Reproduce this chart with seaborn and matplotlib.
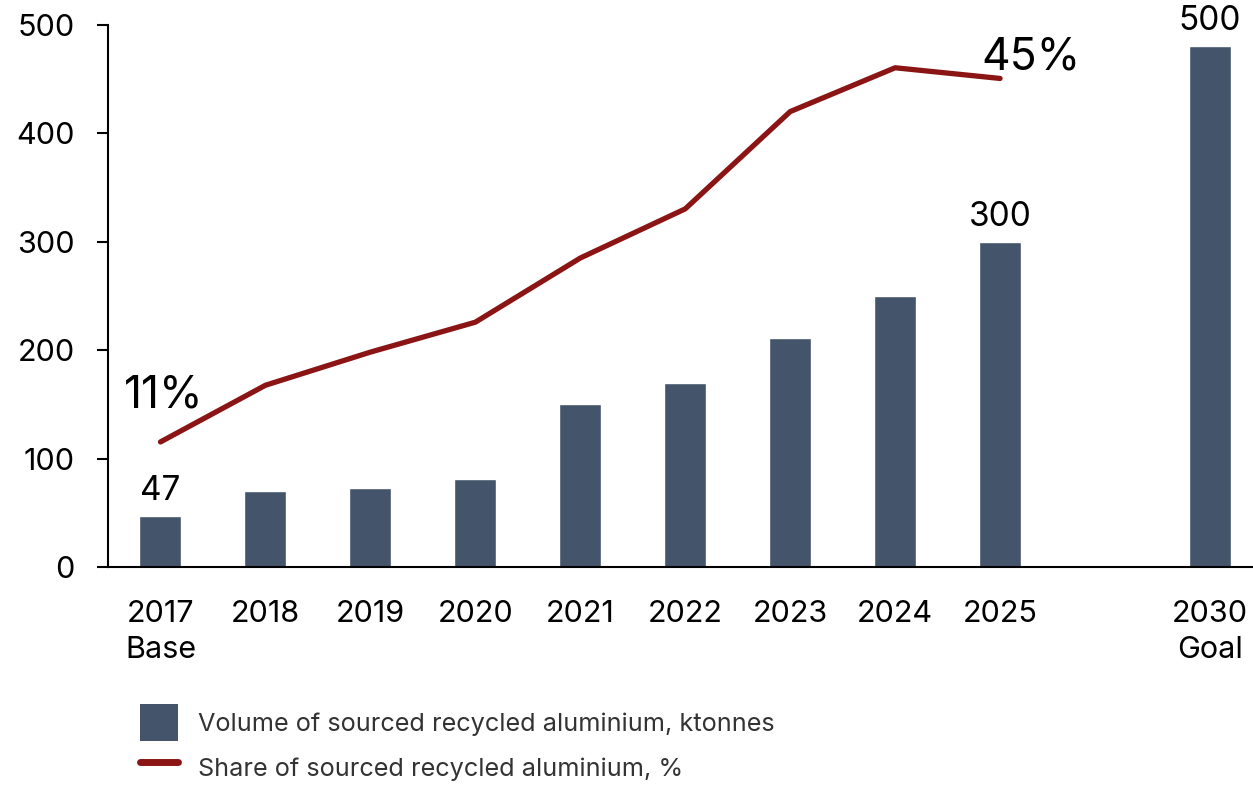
import matplotlib
matplotlib.use("Agg")
import matplotlib.pyplot as plt
import seaborn as sns
import pandas as pd
from matplotlib.patches import Patch
from matplotlib.lines import Line2D

# ---- data ----
slots = ["2017\nBase", "2018", "2019", "2020", "2021", "2022", "2023", "2024", "2025", " ", "2030\nGoal"]
bar_cats = ["2017\nBase", "2018", "2019", "2020", "2021", "2022", "2023", "2024", "2025", "2030\nGoal"]
volume = [47, 70, 73, 81, 150, 170, 211, 250, 300, 481]
bar_labels = {"2017\nBase": "47", "2025": "300", "2030\nGoal": "500"}
line_cats = ["2017\nBase", "2018", "2019", "2020", "2021", "2022", "2023", "2024", "2025"]
share = [11, 16.3, 19.4, 22.2, 28.2, 32.8, 41.9, 46.0, 45]
yticks = [0, 100, 200, 300, 400, 500]

BAR = "#44546a"
RED = "#8b1414"

sns.set_theme(style="white")
plt.rcParams["font.family"] = ["Inter", "DejaVu Sans"]

fig = plt.figure(figsize=(12.53, 7.86), dpi=100)
ax = fig.add_axes([108 / 1253, 1 - 567 / 786, (1253 - 108) / 1253, (567 - 25) / 786])

df = pd.DataFrame({"cat": bar_cats, "vol": volume})
sns.barplot(data=df, x="cat", y="vol", order=slots, color=BAR, width=0.4,
            saturation=1, ax=ax)

ax.set_xlim(-0.5, 10.41)
ax.set_ylim(0, 500)
ax.set_yticks(yticks)
ax.set_xlabel("")
ax.set_ylabel("")
for s in ["top", "right"]:
    ax.spines[s].set_visible(False)
for s in ["left", "bottom"]:
    ax.spines[s].set_color("black")
    ax.spines[s].set_linewidth(1.5)
ax.tick_params(axis="y", left=True, length=8, width=1.5, color="black",
               pad=16, labelsize=22, labelcolor="black")
ax.tick_params(axis="x", bottom=False, length=0, pad=24, labelsize=22, labelcolor="black")
for t in ax.get_xticklabels():
    t.set_linespacing(1.35)

# value labels on bars
for i, c in enumerate(slots):
    if c in bar_labels:
        v = volume[bar_cats.index(c)]
        ax.text(i, v + 8, bar_labels[c], ha="center", va="bottom", fontsize=24, color="black")

# share line on secondary axis
ax2 = ax.twinx()
xpos = [slots.index(c) for c in line_cats]
sns.lineplot(x=xpos, y=share, ax=ax2, color=RED, linewidth=3.8, sort=False,
             solid_capstyle="round", legend=False)
ax2.set_ylim(-0.7, 50)
ax2.set_xlim(-0.5, 10.41)
ax2.axis("off")

ax2.text(xpos[0] + 0.03, share[0] + 2.4, "11%", ha="center", va="bottom", fontsize=32, color="black")
ax2.text(xpos[-1] - 0.18, share[-1] + 0.0, "45%", ha="left", va="bottom", fontsize=32, color="black")

handles = [Patch(facecolor=BAR, edgecolor="none"),
           Line2D([0], [0], color=RED, linewidth=5, solid_capstyle="round")]
labels = ["Volume of sourced recycled aluminium, ktonnes", "Share of sourced recycled aluminium, %"]
fig.legend(handles, labels, loc="upper left", bbox_to_anchor=(140 / 1253, 1 - 704 / 786),
           frameon=False, fontsize=18.2, labelcolor="#333333", handlelength=1.5,
           handleheight=1.9, handletextpad=0.8, labelspacing=0.3, borderpad=0,
           borderaxespad=0)

fig.savefig("out.png", dpi=100)
